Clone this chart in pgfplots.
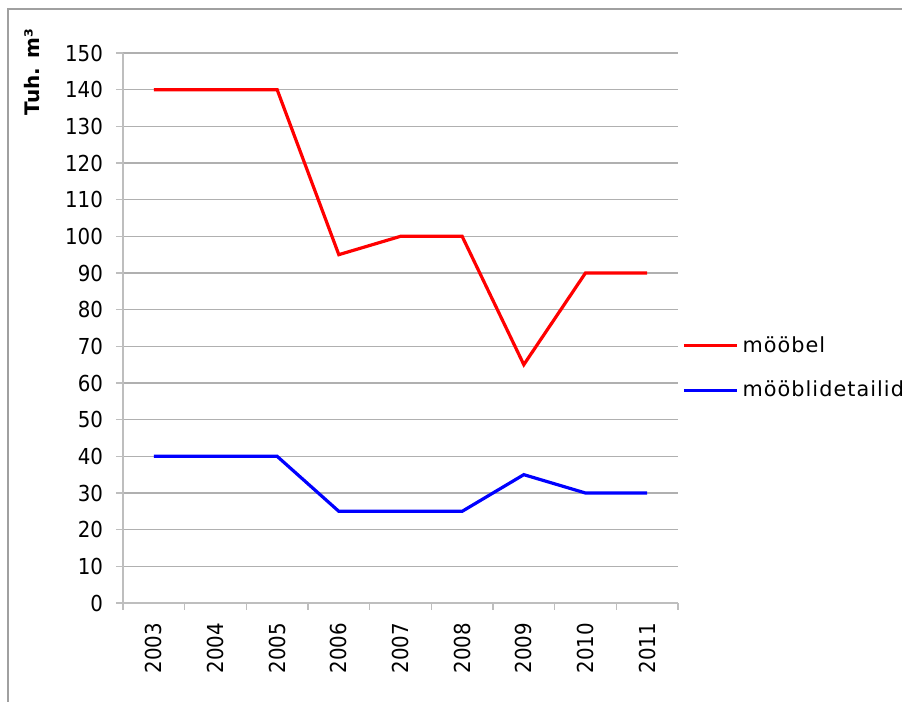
\documentclass[border=0pt]{standalone}
\usepackage{pgfplots}
\pgfplotsset{compat=1.18}
\usepackage{fontspec}
\setmainfont{DejaVu Sans}
\newfontfamily\tickfont{DejaVu Sans Condensed}
\newfontfamily\legfont[LetterSpace=5]{DejaVu Sans}
\definecolor{gridgray}{RGB}{176,176,176}
\definecolor{axisgray}{RGB}{190,190,190}
\definecolor{framegray}{RGB}{160,160,160}
\begin{document}
\begin{tikzpicture}
\useasboundingbox (0,0) rectangle (451pt,351pt);
\draw[framegray, line width=0.6pt] (4pt,-20pt) rectangle (470pt,346.5pt);
\begin{axis}[
  at={(61.5pt,49.5pt)}, anchor=south west,
  width=277.5pt, height=275pt, scale only axis,
  xmin=-0.5, xmax=8.5, ymin=0, ymax=150,
  axis x line=bottom, axis y line=left,
  axis line style={-, axisgray, line width=1pt},
  xtick={0,...,8},
  xticklabels={2003,2004,2005,2006,2007,2008,2009,2010,2011},
  minor xtick={-0.5,0.5,...,8.5},
  ytick={0,10,...,150},
  tick align=outside,
  major tick length=3.5pt, minor tick length=3.5pt,
  major x tick style={draw=none},
  minor x tick style={axisgray, line width=0.6pt},
  major y tick style={axisgray, line width=0.6pt},
  ymajorgrids, 
  grid style={gridgray, line width=0.6pt},
  /pgf/number format/assume math mode=true,
  ticklabel style={font=\tickfont\fontsize{11}{13}\selectfont},
  yticklabel style={xshift=-3pt},
  xticklabel style={rotate=90, anchor=east, xshift=-3pt, yshift=0pt},
  ylabel={\textbf{Tuh. m³}},
  ylabel style={at={(axis description cs:-0.164,0.965)}, anchor=center, rotate=0, font=\fontsize{10}{12}\selectfont},
  legend style={draw=none, fill=none, at={(1.0072,0.427)}, anchor=west, inner sep=0pt,
    font=\legfont\fontsize{10.4}{12}\selectfont, row sep=9pt, nodes={inner sep=2pt}},
  legend cell align=left,
  legend image code/.code={\draw[#1] (0pt,0pt) -- (26.5pt,0pt);},
  clip=false,
]
\addplot[red, line width=1.6pt] coordinates {(0,140) (1,140) (2,140) (3,95) (4,100) (5,100) (6,65) (7,90) (8,90)};
\addlegendentry{mööbel}
\addplot[blue, line width=1.6pt] coordinates {(0,40) (1,40) (2,40) (3,25) (4,25) (5,25) (6,35) (7,30) (8,30)};
\addlegendentry{mööblidetailid}
\end{axis}
\end{tikzpicture}
\end{document}
